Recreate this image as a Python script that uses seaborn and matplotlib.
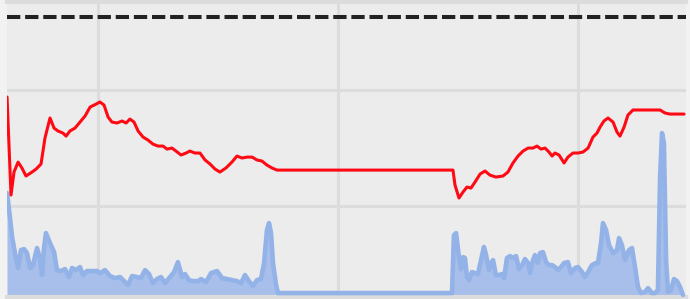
import matplotlib
matplotlib.use("Agg")
import matplotlib.pyplot as plt
import seaborn as sns
import pandas as pd

# ---- data ----
red_x = [2.1, 3.75, 5.0, 6.7, 8.3, 10.0, 12.5, 14.2, 16.25, 17.9, 20.0, 21.7, 23.3, 25.4,
         26.7, 28.3, 30.4, 32.5, 34.6, 36.7, 39.2, 40.8, 42.5, 44.2, 45.8, 47.9, 50.0,
         51.7, 53.3, 55.0, 56.7, 58.75, 60.8, 62.9, 65.0, 67.1, 68.75, 70.8, 72.5, 74.6,
         76.7, 78.3, 80.4, 82.5, 84.6, 86.7, 88.75, 90.8, 93.3, 95.8, 97.9, 100.0, 102.1,
         104.2, 106.25, 108.3, 110.4, 112.5, 114.6, 187.9, 188.75, 190.4, 192.1, 193.75,
         195.4, 197.1, 199.2, 201.25, 203.3, 205.8, 208.75, 210.8, 212.9, 215.0, 217.1,
         219.2, 221.25, 222.9, 224.6, 226.25, 227.9, 229.2, 230.4, 232.1, 234.2, 235.8,
         237.9, 240.0, 242.1, 244.2, 246.25, 247.9, 249.2, 250.8, 252.5, 254.6, 256.25,
         257.5, 259.2, 260.8, 262.9, 265.8, 274.2, 276.25, 278.3, 284.2]
red_y = [194.0, 109.5, 129.3, 137.9, 132.8, 125.9, 129.3, 131.9, 136.2, 158.6, 175.9, 167.2,
         164.7, 162.9, 160.3, 164.7, 167.2, 172.4, 177.6, 185.3, 187.9, 189.7, 187.1, 176.7,
         172.4, 171.6, 173.3, 171.6, 175.0, 172.4, 164.7, 159.5, 156.9, 153.4, 151.7, 151.7,
         149.1, 150.0, 147.4, 144.0, 145.7, 147.4, 145.7, 145.7, 139.7, 136.2, 131.9, 129.3,
         132.8, 137.9, 143.1, 141.4, 142.2, 142.2, 139.7, 138.8, 135.3, 132.8, 131.0, 131.0,
         118.1, 106.9, 112.1, 116.4, 115.5, 120.7, 127.6, 130.2, 126.7, 125.0, 125.9, 129.3,
         137.1, 143.1, 147.4, 150.0, 150.0, 151.7, 149.1, 150.0, 146.6, 143.1, 145.7, 144.0,
         137.1, 142.2, 145.7, 145.7, 146.6, 150.0, 159.5, 162.9, 168.1, 173.3, 175.9, 172.4,
         163.8, 160.3, 168.1, 178.4, 182.8, 182.8, 182.8, 180.2, 179.3, 179.3]

blue_x = [2.1, 3.3, 4.2, 5.4, 6.7, 7.9, 9.2, 10.4, 11.7, 12.9, 14.6, 15.8, 16.7, 17.5, 18.3,
          20.0, 21.7, 22.9, 24.6, 26.25, 27.9, 29.2, 30.8, 32.5, 33.75, 35.4, 37.5, 39.6,
          40.8, 42.9, 45.0, 47.1, 49.2, 51.25, 52.5, 54.2, 56.25, 57.9, 59.6, 61.25, 62.9,
          64.6, 66.25, 67.9, 70.0, 71.7, 73.3, 75.0, 76.25, 77.9, 79.6, 81.7, 82.9, 85.0,
          87.1, 89.6, 91.7, 93.75, 95.8, 97.9, 99.6, 101.25, 102.9, 104.6, 106.25, 107.9,
          109.2, 110.4, 111.25, 112.1, 112.9, 114.2, 115.0, 187.5, 188.3, 189.2, 190.4,
          191.25, 192.1, 192.9, 193.75, 194.6, 195.8, 197.1, 198.3, 199.6, 200.8, 201.7,
          202.9, 203.75, 204.6, 205.8, 207.1, 208.3, 209.2, 210.4, 211.7, 212.9, 214.2,
          215.4, 216.7, 217.9, 219.2, 220.0, 221.25, 222.1, 223.3, 224.2, 225.4, 226.7,
          227.9, 229.2, 230.4, 231.7, 232.9, 234.2, 235.8, 237.1, 238.75, 240.0, 241.7,
          242.9, 244.2, 245.8, 247.5, 248.3, 249.6, 250.4, 251.7, 252.9, 254.6, 256.25,
          257.1, 258.3, 259.6, 261.25, 262.5, 263.75, 265.0, 266.25, 267.9, 269.2, 270.8,
          272.1, 273.3, 274.2, 275.0, 275.8, 276.7, 277.5, 278.75, 280.0, 281.25, 282.5,
          283.75]
blue_y = [111.2, 90.5, 73.3, 59.5, 46.6, 62.1, 62.9, 59.5, 46.6, 49.1, 63.8, 55.2, 40.5, 63.8,
          76.7, 68.1, 60.3, 44.8, 44.0, 45.7, 38.8, 46.6, 44.8, 47.4, 40.5, 44.0, 44.0, 44.0,
          42.2, 44.8, 39.7, 37.9, 38.8, 34.5, 31.9, 39.7, 38.8, 37.9, 44.8, 41.4, 33.6, 37.1,
          38.8, 33.6, 38.8, 43.1, 51.7, 38.8, 41.4, 36.2, 35.3, 35.3, 37.1, 34.5, 42.2, 44.0,
          37.9, 37.1, 36.2, 35.3, 33.6, 40.5, 35.3, 31.0, 36.2, 37.1, 50.9, 79.3, 85.3, 76.7,
          50.9, 31.9, 25.0, 25.0, 75.0, 76.7, 56.0, 45.7, 56.0, 55.2, 38.8, 36.2, 43.1, 42.2,
          41.4, 53.4, 64.7, 57.8, 44.8, 50.9, 53.4, 40.5, 40.5, 41.4, 37.9, 55.2, 56.9, 55.2,
          56.9, 45.7, 49.1, 54.3, 50.9, 42.2, 53.4, 57.8, 50.9, 59.5, 60.3, 51.7, 49.1, 49.1,
          47.4, 44.8, 47.4, 50.9, 51.7, 42.2, 46.6, 47.4, 43.1, 38.8, 43.1, 49.1, 50.9, 50.9,
          68.1, 85.3, 79.3, 66.4, 59.5, 62.1, 72.4, 66.4, 53.4, 62.1, 63.8, 47.4, 30.2, 25.0,
          25.9, 29.3, 25.0, 25.0, 27.6, 125.0, 162.9, 154.3, 53.4, 25.9, 27.6, 37.1, 35.3,
          30.2, 23.3]

target_y = 263
x_ticks = [40, 140, 240]
y_ticks = [100, 200]

red_df = pd.DataFrame({"x": red_x, "y": red_y})
blue_df = pd.DataFrame({"x": blue_x, "y": blue_y})

sns.set_theme(style="whitegrid")
plt.rcParams["font.family"] = ["DejaVu Sans"]
plt.rcParams["lines.solid_joinstyle"] = "round"
plt.rcParams["lines.solid_capstyle"] = "round"

fig = plt.figure(figsize=(6.9, 2.99), dpi=100, facecolor="#f2f2f2")
ax = fig.add_axes([7 / 690, 2 / 299, 679 / 690, 295 / 299])
ax.set_facecolor("#ececec")

# blue area
ax.fill_between(blue_df["x"], blue_df["y"], 0, color="#a7bfea", lw=0, zorder=2)
sns.lineplot(data=blue_df, x="x", y="y", ax=ax, color="#93b3e8", lw=3.3,
             estimator=None, sort=False, zorder=3)

# red line
sns.lineplot(data=red_df, x="x", y="y", ax=ax, color="#ff0a14", lw=2.2,
             estimator=None, sort=False, zorder=4)

# dashed target line
ax.axhline(target_y, color="#222222", lw=2.9, dashes=(3.3, 1.2), zorder=5)

ax.set_xlim(2.08, 285)
ax.set_ylim(21.6, 275.9)
ax.set_xticks(x_ticks)
ax.set_yticks(y_ticks)
ax.set_xticklabels([])
ax.set_yticklabels([])
ax.tick_params(length=0)
ax.grid(True, color="#dcdcdc", lw=2.2)
ax.set_axisbelow(True)
ax.set_xlabel("")
ax.set_ylabel("")

for side in ["left", "right"]:
    ax.spines[side].set_visible(False)
for side in ["top", "bottom"]:
    ax.spines[side].set_color("#dcdcdc")
    ax.spines[side].set_linewidth(3.0)

fig.savefig("out.png", dpi=100, facecolor=fig.get_facecolor())
